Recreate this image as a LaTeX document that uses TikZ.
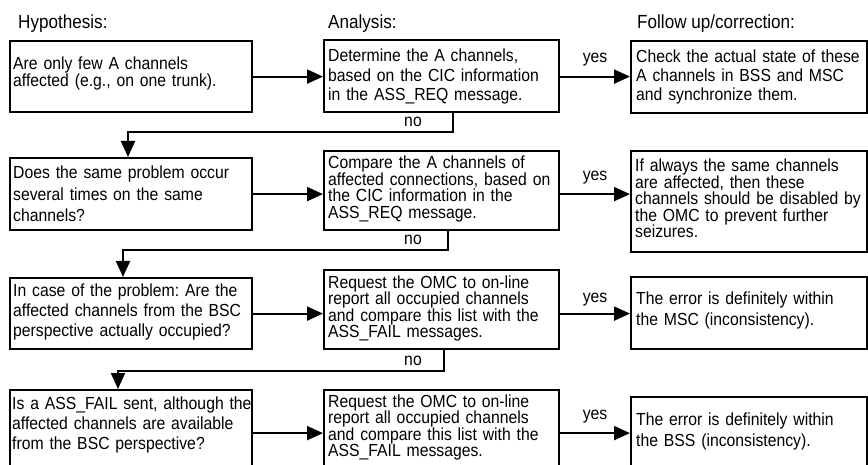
\documentclass[tikz,border=0pt]{standalone}
\usepackage{fontspec}
\setmainfont{Liberation Sans}[FakeStretch=0.9]
\usetikzlibrary{arrows.meta}
\frenchspacing
\tikzset{
  box/.style={draw, line width=2.2pt, inner sep=0pt, anchor=north west},
  fs/.style={font=\fontsize{17.5pt}{#1}\selectfont},
  txt/.style={anchor=base west, inner sep=0pt, text width=260pt, align=left},
  lbl/.style={font=\fontsize{17.5pt}{18pt}\selectfont, inner sep=0pt, anchor=base},
  hdr/.style={font=\fontsize{19pt}{19pt}\selectfont, inner sep=0pt, anchor=base west},
  arr/.style={line width=2pt, -{Triangle[length=16pt,width=14pt]}}
}
\begin{document}
\begin{tikzpicture}[x=1pt,y=-1pt]
\useasboundingbox (0,0) rectangle (868,465);
\clip (0,0) rectangle (868,465);

% headers
\node[hdr] (hh) at (18,29) {Hypothesis:};
\node[hdr] (ha) at (328,29) {Analysis:};
\node[hdr] (hf) at (637,29) {Follow up/correction:};

% boxes
\node[box, minimum width=242pt, minimum height=71pt] (h1) at (9,40) {};
\node[box, minimum width=235pt, minimum height=72pt] (a1) at (323,39) {};
\node[box, minimum width=236pt, minimum height=72pt] (f1) at (630,40) {};
\node[box, minimum width=242pt, minimum height=72pt] (h2) at (9,157) {};
\node[box, minimum width=235pt, minimum height=79pt] (a2) at (323,150) {};
\node[box, minimum width=236pt, minimum height=101pt] (f2) at (630,150) {};
\node[box, minimum width=242pt, minimum height=71pt] (h3) at (9,277) {};
\node[box, minimum width=235pt, minimum height=79pt] (a3) at (323,269) {};
\node[box, minimum width=236pt, minimum height=72pt] (f3) at (630,276) {};
\node[box, minimum width=242pt, minimum height=86pt] (h4) at (9,389) {};
\node[box, minimum width=235pt, minimum height=86pt] (a4) at (323,389) {};
\node[box, minimum width=236pt, minimum height=72pt] (f4) at (630,396) {};

% texts
\node[txt, fs=17pt] (t11) at (13,70) {Are only few A channels\\affected (e.g., on one trunk).};
\node[txt, fs=19.5pt] (t12) at (328,62) {Determine the A channels,\\based on the CIC information\\in the ASS\_REQ message.};
\node[txt, fs=19pt] (t13) at (636,63) {Check the actual state of these\\A channels in BSS and MSC\\and synchronize them.};
\node[txt, fs=21.5pt] (t21) at (13,179) {Does the same problem occur\\several times on the same\\channels?};
\node[txt, fs=16.5pt] (t22) at (328,169) {Compare the A channels of\\affected connections, based on\\the CIC information in the\\ASS\_REQ message.};
\node[txt, fs=16.5pt] (t23) at (635,172) {If always the same channels\\are affected, then these\\channels should be disabled by\\the OMC to prevent further\\seizures.};
\node[txt, fs=20pt] (t31) at (13,297) {In case of the problem: Are the\\affected channels from the BSC\\perspective actually occupied?};
\node[txt, fs=16.5pt] (t32) at (328,288) {Request the OMC to on-line\\report all occupied channels\\and compare this list with the\\ASS\_FAIL messages.};
\node[txt, fs=21pt] (t33) at (636,305) {The error is definitely within\\the MSC (inconsistency).};
\node[txt, fs=20pt] (t41) at (12,409) {Is a ASS\_FAIL sent, although the\\affected channels are available\\from the BSC perspective?};
\node[txt, fs=16.5pt] (t42) at (328,407) {Request the OMC to on-line\\report all occupied channels\\and compare this list with the\\ASS\_FAIL messages.};
\node[txt, fs=21pt] (t43) at (636,425) {The error is definitely within\\the BSS (inconsistency).};

% horizontal arrows
\draw[arr] (h1.east) -- (h1.east -| a1.west);
\draw[arr] (a1.east |- h1.east) -- (h1.east -| f1.west);
\draw[arr] (h2.east) -- (h2.east -| a2.west);
\draw[arr] (a2.east |- h2.east) -- (h2.east -| f2.west);
\draw[arr] (h3.east) -- (h3.east -| a3.west);
\draw[arr] (a3.east |- h3.east) -- (h3.east -| f3.west);
\draw[arr] (h4.east) -- (h4.east -| a4.west);
\draw[arr] (a4.east |- h4.east) -- (h4.east -| f4.west);

% yes labels
\node[lbl] (y1) at (595,63) {yes};
\node[lbl] (y2) at (595,181) {yes};
\node[lbl] (y3) at (595,302) {yes};
\node[lbl] (y4) at (595,419) {yes};

% no connectors
\coordinate (n1) at (453,132); \coordinate (m1) at (128,132);
\coordinate (n2) at (448,250); \coordinate (m2) at (123,250);
\coordinate (n3) at (444,371); \coordinate (m3) at (118,371);
\draw[arr] (a1.south -| n1) -- (n1) -- (m1) -- (m1 |- h2.north);
\draw[arr] (a2.south -| n2) -- (n2) -- (m2) -- (m2 |- h3.north);
\draw[arr] (a3.south -| n3) -- (n3) -- (m3) -- (m3 |- h4.north);
\node[lbl] (no1) at (413,127) {no};
\node[lbl] (no2) at (413,245) {no};
\node[lbl] (no3) at (413,365) {no};
\end{tikzpicture}
\end{document}
